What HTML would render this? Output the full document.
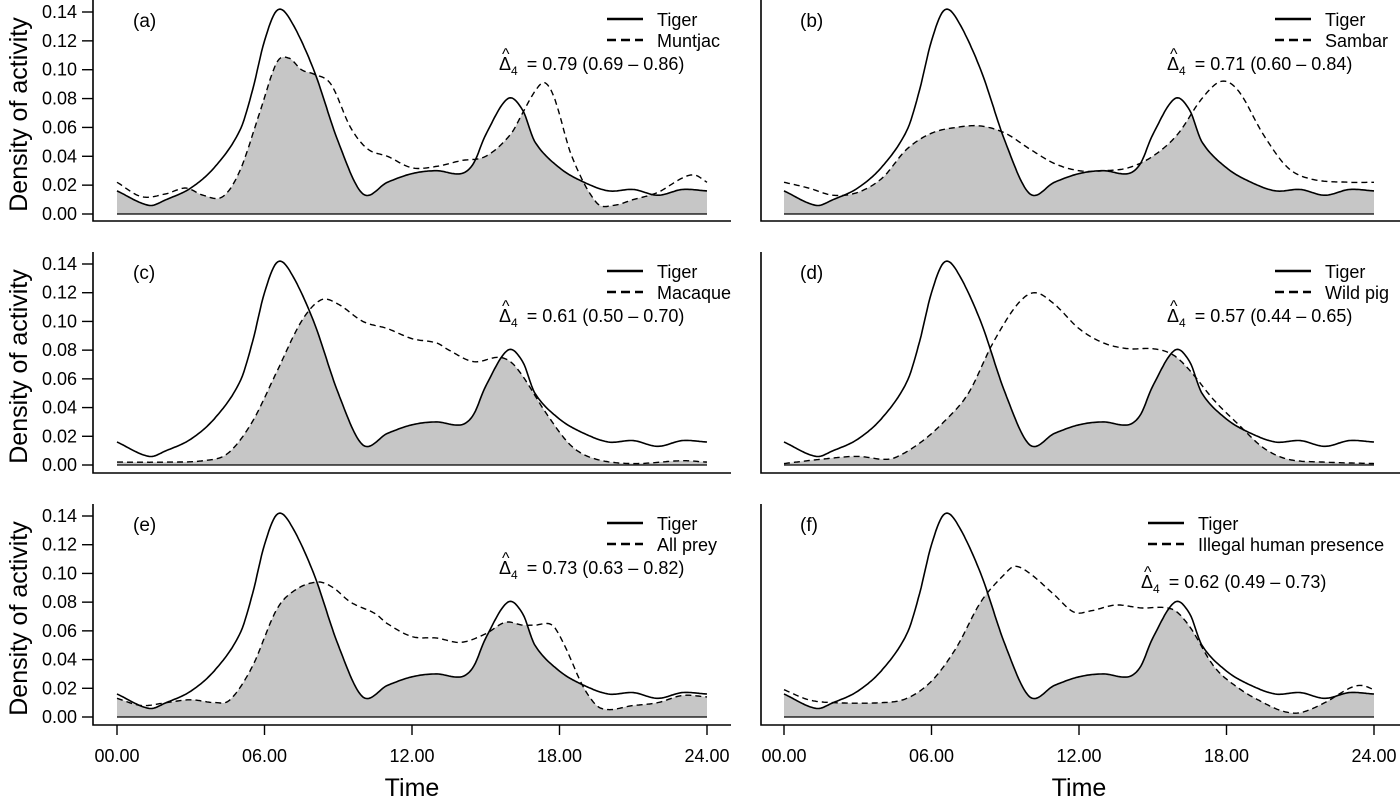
<!DOCTYPE html>
<html><head><meta charset="utf-8">
<style>
body{margin:0;background:#fff;}
svg{display:block;font-family:"Liberation Sans",Arial,sans-serif;}
</style></head>
<body>
<svg id="chart" width="1400" height="798"></svg>
<script>
const tigerH=[0,1.3,2,3,4,5,5.5,6,6.5,7,8,9,10,11,12,13,14,14.5,15,15.9,16.5,17,18,19,20,21,22,23,24];
const tigerV=[0.016,0.006,0.010,0.018,0.033,0.058,0.085,0.120,0.141,0.136,0.100,0.050,0.014,0.022,0.028,0.030,0.028,0.035,0.055,0.080,0.072,0.050,0.032,0.022,0.016,0.017,0.013,0.017,0.016];
const muntjacH=[0,1,2,2.8,3.5,4.3,5,5.8,6.5,7,7.5,8,8.7,9.5,10.2,11,12,13,14,15,16,16.5,17,17.4,17.8,18.5,19.5,20.2,21,22,23,23.5,24];
const muntjacV=[0.022,0.012,0.014,0.018,0.013,0.012,0.030,0.070,0.105,0.108,0.100,0.097,0.090,0.060,0.045,0.040,0.032,0.033,0.037,0.040,0.055,0.070,0.085,0.091,0.080,0.040,0.008,0.006,0.010,0.015,0.025,0.027,0.022];
const sambarH=[0,1,2,3,4,5,6,7,8,9,10,11,12,13,14,15,16,17,17.8,18.5,19.5,20.5,21.5,23,24];
const sambarV=[0.022,0.018,0.013,0.015,0.025,0.045,0.056,0.060,0.061,0.056,0.045,0.035,0.030,0.030,0.032,0.040,0.055,0.080,0.092,0.085,0.055,0.032,0.024,0.022,0.022];
const macaqueH=[0,2,3.5,4.5,5.5,6.5,7.5,8.3,9,10,11,12,13,13.5,14.5,15.5,16,16.5,17.5,18.5,19.5,21,23,24];
const macaqueV=[0.002,0.002,0.003,0.008,0.030,0.065,0.100,0.115,0.112,0.100,0.095,0.088,0.085,0.080,0.072,0.075,0.072,0.062,0.035,0.013,0.004,0.001,0.003,0.002];
const pigH=[0,1.5,3,4,4.5,5.5,6.5,7.5,8.5,9.5,10.2,11,12,13,14,15,15.8,16.5,17.5,18.5,19.5,20.5,22,24];
const pigV=[0.001,0.004,0.006,0.004,0.005,0.015,0.030,0.050,0.085,0.112,0.120,0.112,0.095,0.085,0.081,0.081,0.077,0.066,0.045,0.028,0.012,0.004,0.002,0.001];
const allH=[0,1,2,3,4,4.6,5.5,6.5,7.3,8.2,8.8,9.5,10.5,11,12,13,14,15,15.8,16.5,17,17.7,18.2,19,19.7,21,22,23,24];
const allV=[0.013,0.008,0.010,0.012,0.010,0.012,0.035,0.075,0.089,0.094,0.090,0.080,0.072,0.065,0.056,0.055,0.052,0.058,0.066,0.064,0.064,0.064,0.050,0.020,0.006,0.008,0.010,0.015,0.014];
const humanH=[0,1,2,4,5,6,7,8,9,9.4,10,11,11.8,12.5,13.5,14.5,15.8,16.5,17.5,18.5,19.5,20.3,21,22,23,23.5,24];
const humanV=[0.019,0.012,0.010,0.010,0.013,0.025,0.048,0.080,0.100,0.105,0.100,0.085,0.073,0.074,0.078,0.076,0.075,0.063,0.035,0.020,0.010,0.004,0.003,0.010,0.020,0.022,0.019];
const yTicks=[0,0.02,0.04,0.06,0.08,0.10,0.12,0.14];
const xTicks=[0,6,12,18,24];
const xLabels=["00.00","06.00","12.00","18.00","24.00"];

const panels=[
 {id:"a",col:0,row:0,h:muntjacH,v:muntjacV,name:"Muntjac",d:"= 0.79 (0.69 – 0.86)"},
 {id:"b",col:1,row:0,h:sambarH,v:sambarV,name:"Sambar",d:"= 0.71 (0.60 – 0.84)"},
 {id:"c",col:0,row:1,h:macaqueH,v:macaqueV,name:"Macaque",d:"= 0.61 (0.50 – 0.70)"},
 {id:"d",col:1,row:1,h:pigH,v:pigV,name:"Wild pig",d:"= 0.57 (0.44 – 0.65)"},
 {id:"e",col:0,row:2,h:allH,v:allV,name:"All prey",d:"= 0.73 (0.63 – 0.82)"},
 {id:"f",col:1,row:2,h:humanH,v:humanV,name:"Illegal human presence",d:"= 0.62 (0.49 – 0.73)"}
];
const NS="http://www.w3.org/2000/svg";
const svg=document.getElementById('chart');
function mk(tag,attrs,parent){const e=document.createElementNS(NS,tag);for(const k in attrs)e.setAttribute(k,attrs[k]);(parent||svg).appendChild(e);return e;}
function interp(H,V,t){
  let i=0;while(i<H.length-2&&t>H[i+1])i++;
  const x0=H[i],x1=H[i+1];const u=(t-x0)/(x1-x0);
  const p0=V[Math.max(0,i-1)],p1=V[i],p2=V[i+1],p3=V[Math.min(V.length-1,i+2)];
  const h0=H[Math.max(0,i-1)],h3=H[Math.min(H.length-1,i+2)];
  const m1=(p2-p0)/(x1-h0||1)*(x1-x0),m2=(p3-p1)/(h3-x0||1)*(x1-x0);
  const u2=u*u,u3=u2*u;
  return (2*u3-3*u2+1)*p1+(u3-2*u2+u)*m1+(-2*u3+3*u2)*p2+(u3-u2)*m2;
}
panels.forEach(p=>{
  const g=mk('g',{});
  
  
  const x0=p.col?784:117, x24=p.col?1374:707;
  const y0=[214,465,717][p.row], yTop=[12,264,516][p.row];
  const top=[0,252,504][p.row], bot=[221,473,725][p.row];
  const axL=p.col?761:93, axR=p.col?1400:731;
  const X=h=>x0+(x24-x0)*h/24;
  const Y=v=>y0-(y0-yTop)*v/0.14;
  const N=400;const tg=[],pr=[],mn=[];
  for(let k=0;k<=N;k++){const t=24*k/N;const a=interp(tigerH,tigerV,t),b=interp(p.h,p.v,t);
    tg.push([X(t),Y(a)]);pr.push([X(t),Y(b)]);mn.push([X(t),Y(Math.max(0,Math.min(a,b)))]);}
  const pts=a=>a.map(q=>q[0].toFixed(1)+','+q[1].toFixed(1)).join(' ');
  const area=mk('polygon',{points:X(0)+','+Y(0)+' '+pts(mn)+' '+X(24)+','+Y(0),fill:'#c6c6c6',stroke:'none'},g);
  
  
  const base=mk('line',{x1:X(0),x2:X(24),y1:Y(0),y2:Y(0),stroke:'#000','stroke-width':1.2},g);
  
  
  const tl=mk('polyline',{points:pts(tg),fill:'none',stroke:'#000','stroke-width':1.6},g);
  
  
  const pl=mk('polyline',{points:pts(pr),fill:'none',stroke:'#000','stroke-width':1.4,'stroke-dasharray':'6,4'},g);
  
  
  const ax=mk('path',{d:`M${axL},${top}V${bot}H${axR}`,fill:'none',stroke:'#000','stroke-width':1.6},g);
  
  
  if(!p.col){
    yTicks.forEach(v=>{
      const t=mk('line',{x1:82,x2:axL,y1:Y(v),y2:Y(v),stroke:'#000','stroke-width':1.4},g);
      
      
      const l=mk('text',{x:77,y:Y(v)+6,'text-anchor':'end','font-size':18},g);
      l.textContent=v.toFixed(2);
      
      
    });
    const yt=mk('text',{x:0,y:0,transform:`translate(27,${(top+bot)/2+4}) rotate(-90)`,'text-anchor':'middle','font-size':25},g);
    yt.textContent='Density of activity';
    
    
  }
  if(p.row===2){
    xTicks.forEach((h,i)=>{
      const t=mk('line',{x1:X(h),x2:X(h),y1:bot,y2:bot+10,stroke:'#000','stroke-width':1.4},g);
      
      
      const l=mk('text',{x:X(h),y:762,'text-anchor':'middle','font-size':18},g);
      l.textContent=xLabels[i];
      
      
    });
    const xt=mk('text',{x:X(12),y:796,'text-anchor':'middle','font-size':25},g);
    xt.textContent='Time';
    
    
  }
  const lab=mk('text',{x:X(0)+16,y:top+27,'font-size':19},g);
  lab.textContent='('+p.id+')';
  
  
  const wide=p.id==='f';
  const lx=wide?1148:(p.col?1275:607);
  const lg=mk('g',{},g);
  
  
  mk('line',{x1:lx,x2:lx+36,y1:top+19,y2:top+19,stroke:'#000','stroke-width':2.4},lg);
  mk('line',{x1:lx,x2:lx+36,y1:top+40,y2:top+40,stroke:'#000','stroke-width':2.4,'stroke-dasharray':'9,5'},lg);
  const t1=mk('text',{x:lx+50,y:top+26,'font-size':18},lg);t1.textContent='Tiger';
  
  
  const t2=mk('text',{x:lx+50,y:top+47,'font-size':18},lg);t2.textContent=p.name;
  
  
  const dx=wide?1141:(p.col?1167:499), dy=top+(wide?84:70);
  const hat=mk('text',{x:dx+3,y:dy-11,'font-size':16},g);hat.textContent='^';
  
  
  const dt=mk('text',{x:dx,y:dy,'font-size':18},g);
  
  
  const s1=mk('tspan',{},dt);s1.textContent='Δ';
  const s2=mk('tspan',{dy:5,'font-size':12},dt);s2.textContent='4';
  const s3=mk('tspan',{dy:-5,dx:9},dt);s3.textContent=p.d;
});
</script>
</body></html>
